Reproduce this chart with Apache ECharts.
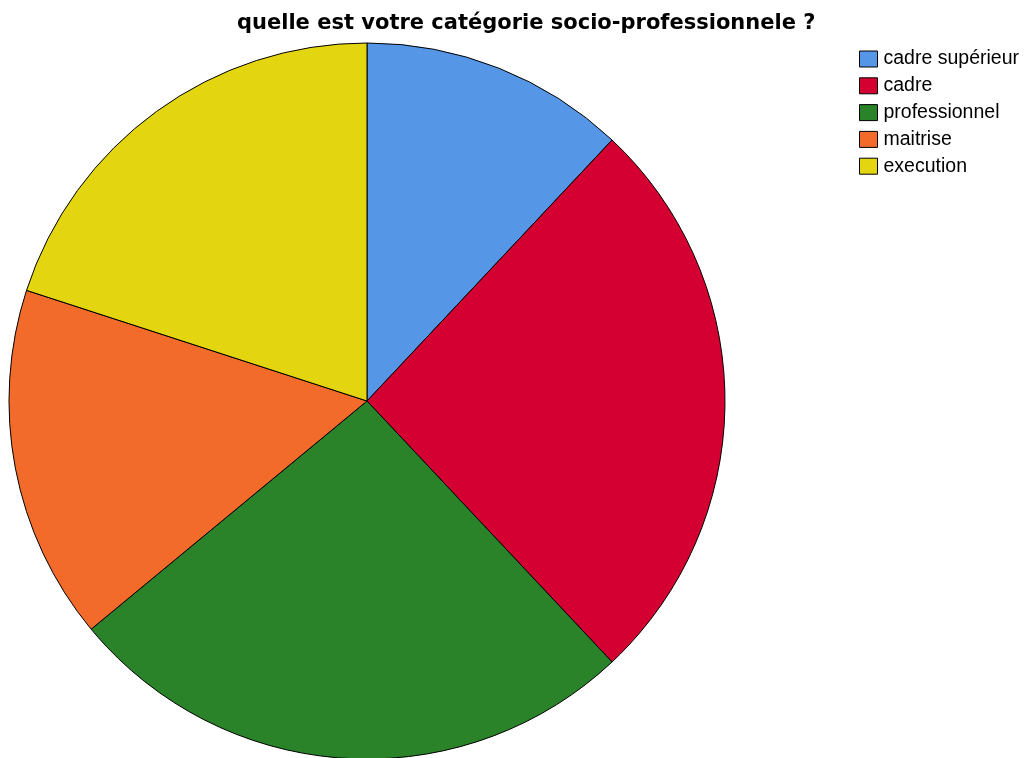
<!DOCTYPE html>
<html>
<head>
<meta charset="utf-8">
<script src="https://cdn.jsdelivr.net/npm/echarts@6/dist/echarts.min.js"></script>
<style>html,body{margin:0;padding:0;background:#fff;}#c{width:1032px;height:758px;}</style>
</head>
<body>
<div id="c"></div>
<script>
const titleText = 'quelle est votre catégorie socio-professionnele ?';
const categories = ['cadre supérieur', 'cadre', 'professionnel', 'maitrise', 'execution'];
const values = [12, 26, 26, 16, 20];
const colors = ['#5597e6', '#d50032', '#2a8229', '#f26b2a', '#e3d611'];

const chart = echarts.init(document.getElementById('c'));
chart.setOption({
  animation: false,
  title: {
    text: titleText,
    left: 232,
    top: 8,
    textStyle: { fontFamily: 'DejaVu Sans', fontWeight: 'bold', fontSize: 21, color: '#000' }
  },
  legend: {
    orient: 'vertical',
    left: 854,
    top: 44,
    itemWidth: 18,
    itemHeight: 16,
    itemGap: 6.8,
    icon: 'rect',
    selectedMode: false,
    itemStyle: { borderColor: '#000', borderWidth: 1 },
    textStyle: { fontFamily: 'Liberation Sans', fontSize: 19.5, color: '#000', padding: [0, 0, 0, 1] },
    data: categories
  },
  series: [{
    type: 'pie',
    center: [367, 401],
    radius: 358,
    startAngle: 90,
    clockwise: true,
    label: { show: false },
    labelLine: { show: false },
    emphasis: { disabled: true },
    itemStyle: { borderColor: '#000', borderWidth: 1 },
    data: categories.map((c, i) => ({ name: c, value: values[i], itemStyle: { color: colors[i] } }))
  }]
});
</script>
</body>
</html>
